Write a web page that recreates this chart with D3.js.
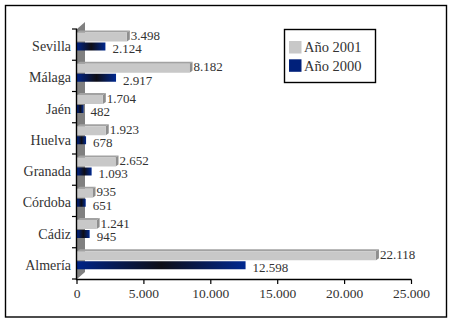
<!DOCTYPE html>
<html>
<head>
<meta charset="utf-8">
<script src="https://cdn.jsdelivr.net/npm/d3@7"></script>
<style>
  body { margin: 0; background: #fff; }
  svg text { font-family: "Liberation Serif", "Times New Roman", serif; fill: #333; }
</style>
</head>
<body>
<svg id="chart" width="453" height="322"></svg>
<script>
const provincias = ["Sevilla", "Málaga", "Jaén", "Huelva", "Granada", "Córdoba", "Cádiz", "Almería"];
const anio2001 = [3498, 8182, 1704, 1923, 2652, 935, 1241, 22118];
const anio2000 = [2124, 2917, 482, 678, 1093, 651, 945, 12598];
const ticksX = [0, 5000, 10000, 15000, 20000, 25000];
const series = ["Año 2001", "Año 2000"];

const svg = d3.select("#chart");
const fmt = v => d3.format(",")(v).replace(/,/g, ".");

const x = d3.scaleLinear().domain([0, 25000]).range([77, 411.5]);
const y = d3.scaleBand().domain(provincias).range([29, 279]).padding(0);

const datos = provincias.map((p, i) => ({ p, v1: anio2001[i], v0: anio2000[i] }));

// gradiente de las barras azules
const defs = svg.append("defs");
const grad = defs.append("linearGradient").attr("id", "azul").attr("x1", 0).attr("x2", 1).attr("y1", 0).attr("y2", 0);
grad.append("stop").attr("offset", "0%").attr("stop-color", "#002487");
grad.append("stop").attr("offset", "50%").attr("stop-color", "#0e0e16");
grad.append("stop").attr("offset", "100%").attr("stop-color", "#002890");

// marco exterior
svg.append("rect").attr("x", 5.5).attr("y", 5.5).attr("width", 441).attr("height", 311.5)
  .attr("fill", "none").attr("stroke", "#000").attr("stroke-width", 1.4);

// pared 3D
const x0 = x(0);
svg.append("polygon")
  .attr("points", [[x0, 29], [x0 + 8, 22], [x0 + 8, 272], [x0, 279]].join(" "))
  .attr("fill", "#808080");

const dx = 3, dy = 2;
const g = svg.append("g");

datos.forEach(d => {
  const yb = y(d.p);
  const x1 = x(d.v1) + 3;
  const yt = yb + 3.5;
  // barra gris (2001): cara superior, lateral y frontal
  g.append("polygon")
    .attr("points", [[x0, yt], [x0 + dx, yt - dy], [x1 + dx, yt - dy], [x1, yt]].join(" "))
    .attr("fill", "#a2a2a2");
  g.append("polygon")
    .attr("points", [[x1, yt], [x1 + dx, yt - dy], [x1 + dx, yt + 9 - dy], [x1, yt + 9]].join(" "))
    .attr("fill", "#8e8e8e");
  g.append("rect").attr("x", x0).attr("y", yt).attr("width", x1 - x0).attr("height", 9)
    .attr("fill", "#c8c8c8");
  // barra azul (2000)
  g.append("rect").attr("x", x0).attr("y", yb + 13.5).attr("width", x(d.v0) - x0).attr("height", 8)
    .attr("fill", "url(#azul)");
});

// etiquetas de valores
g.selectAll(".v1").data(datos).join("text")
  .attr("x", d => x(d.v1) + 7)
  .attr("y", d => y(d.p) + 6.5)
  .attr("dy", "0.35em")
  .attr("font-size", 13)
  .text(d => fmt(d.v1));
g.selectAll(".v0").data(datos).join("text")
  .attr("x", d => x(d.v0) + 7)
  .attr("y", d => y(d.p) + 19.8)
  .attr("dy", "0.35em")
  .attr("font-size", 13)
  .text(d => fmt(d.v0));

// eje Y
svg.append("line").attr("x1", x0 - 0.5).attr("x2", x0 - 0.5).attr("y1", 29).attr("y2", 280)
  .attr("stroke", "#000").attr("stroke-width", 1.4);
const bordes = provincias.map(p => y(p)).concat([y.range()[1]]);
svg.selectAll(".ty").data(bordes).join("line")
  .attr("x1", x0 - 5).attr("x2", x0).attr("y1", d => d).attr("y2", d => d)
  .attr("stroke", "#000").attr("stroke-width", 1.2);
svg.selectAll(".cat").data(provincias).join("text")
  .attr("x", 71)
  .attr("y", d => y(d) + y.bandwidth() / 2 + 1.5)
  .attr("dy", "0.35em")
  .attr("text-anchor", "end")
  .attr("font-size", 14)
  .text(d => d);

// eje X
svg.append("line").attr("x1", x0 - 1).attr("x2", x(25000)).attr("y1", 279.5).attr("y2", 279.5)
  .attr("stroke", "#000").attr("stroke-width", 1.4);
svg.selectAll(".tx").data(ticksX).join("line")
  .attr("x1", d => x(d)).attr("x2", d => x(d)).attr("y1", 279.5).attr("y2", 284)
  .attr("stroke", "#000").attr("stroke-width", 1.2);
svg.selectAll(".lx").data(ticksX).join("text")
  .attr("x", d => x(d))
  .attr("y", 293)
  .attr("dy", "0.35em")
  .attr("text-anchor", "middle")
  .attr("font-size", 13.5)
  .text(d => fmt(d));

// leyenda
const ley = svg.append("g");
ley.append("rect").attr("x", 284.5).attr("y", 29.5).attr("width", 91).attr("height", 53)
  .attr("fill", "#fff").attr("stroke", "#000").attr("stroke-width", 1.4);
const colores = ["#c8c8c8", "#00207a"];
series.forEach((s, i) => {
  ley.append("rect").attr("x", 289).attr("y", 41 + i * 18.3).attr("width", 12.5).attr("height", 12.5)
    .attr("fill", colores[i]);
  ley.append("text").attr("x", 304).attr("y", 47.3 + i * 18.3).attr("dy", "0.35em")
    .attr("font-size", 14.5).text(s);
});
</script>
</body>
</html>
